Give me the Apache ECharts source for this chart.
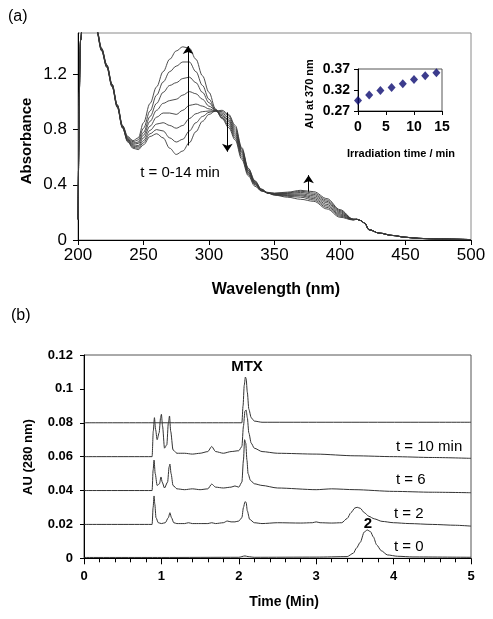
<!DOCTYPE html>
<html><head><meta charset="utf-8">
<script src="https://cdn.jsdelivr.net/npm/echarts@6/dist/echarts.min.js"></script>
<style>html,body{margin:0;padding:0;background:#fff}#c{width:493px;height:619px}</style>
</head><body><div id="c"></div>
<script>
// ---------- Panel (a): UV-Vis spectra ----------
const wavelengths = [200,202,206,210,214,218,222,226,230,234,238,242,246,250,255,260,265,270,275,280,285,290,295,300,305,310,315,320,325,330,335,340,345,350,360,370,380,390,400,410,413,416,419,422,430,440,450,460,475,500];
const absT0  = [0.15,1.45,2.2,2.2,1.52,1.37,1.25,1.11,0.96,0.81,0.71,0.665,0.655,0.69,0.75,0.77,0.74,0.665,0.62,0.645,0.705,0.785,0.86,0.91,0.935,0.94,0.91,0.83,0.67,0.52,0.43,0.37,0.34,0.325,0.31,0.295,0.28,0.225,0.165,0.145,0.15,0.14,0.12,0.075,0.05,0.033,0.02,0.012,0.007,0.003];
const absT2  = [0.15,1.45,2.2,2.2,1.523,1.373,1.253,1.113,0.963,0.812,0.715,0.672,0.665,0.705,0.77,0.80,0.79,0.74,0.71,0.73,0.79,0.85,0.895,0.925,0.935,0.93,0.90,0.815,0.66,0.515,0.425,0.368,0.34,0.327,0.317,0.31,0.29,0.236,0.173,0.146,0.15,0.14,0.12,0.075,0.05,0.033,0.02,0.012,0.007,0.003];
const absT4  = [0.15,1.45,2.2,2.2,1.526,1.376,1.256,1.116,0.966,0.815,0.72,0.68,0.675,0.72,0.795,0.84,0.85,0.83,0.81,0.83,0.88,0.915,0.93,0.935,0.935,0.92,0.885,0.80,0.65,0.505,0.42,0.365,0.34,0.329,0.322,0.32,0.30,0.247,0.181,0.147,0.15,0.14,0.12,0.075,0.05,0.033,0.02,0.012,0.007,0.003];
const absT6  = [0.15,1.45,2.2,2.2,1.529,1.379,1.259,1.119,0.969,0.818,0.725,0.688,0.685,0.74,0.825,0.89,0.92,0.92,0.91,0.94,0.975,0.985,0.97,0.95,0.935,0.91,0.87,0.785,0.64,0.50,0.415,0.362,0.34,0.331,0.327,0.327,0.31,0.258,0.189,0.148,0.15,0.14,0.12,0.075,0.05,0.033,0.02,0.012,0.007,0.003];
const absT8  = [0.15,1.45,2.2,2.2,1.532,1.382,1.262,1.122,0.972,0.82,0.73,0.695,0.70,0.76,0.86,0.94,0.99,1.01,1.02,1.05,1.075,1.06,1.02,0.97,0.94,0.90,0.86,0.77,0.63,0.49,0.41,0.36,0.34,0.333,0.332,0.335,0.32,0.27,0.197,0.149,0.15,0.14,0.12,0.075,0.05,0.033,0.02,0.012,0.007,0.003];
const absT10 = [0.15,1.45,2.2,2.2,1.535,1.385,1.265,1.125,0.975,0.823,0.735,0.703,0.71,0.78,0.895,0.99,1.07,1.12,1.14,1.17,1.18,1.14,1.07,0.995,0.94,0.89,0.845,0.755,0.615,0.485,0.405,0.358,0.342,0.335,0.337,0.345,0.33,0.28,0.205,0.15,0.15,0.14,0.12,0.075,0.05,0.033,0.02,0.012,0.007,0.003];
const absT12 = [0.15,1.45,2.2,2.2,1.538,1.388,1.268,1.128,0.978,0.826,0.742,0.712,0.725,0.81,0.935,1.05,1.145,1.22,1.26,1.29,1.29,1.22,1.12,1.02,0.945,0.885,0.83,0.74,0.60,0.475,0.40,0.356,0.343,0.337,0.342,0.353,0.34,0.29,0.213,0.151,0.15,0.14,0.12,0.075,0.05,0.033,0.02,0.012,0.007,0.003];
const absT14 = [0.15,1.45,2.2,2.2,1.54,1.39,1.27,1.13,0.98,0.83,0.75,0.72,0.74,0.85,0.99,1.11,1.22,1.31,1.37,1.40,1.39,1.31,1.19,1.07,0.95,0.88,0.815,0.725,0.585,0.465,0.39,0.355,0.345,0.34,0.347,0.36,0.35,0.30,0.22,0.152,0.15,0.14,0.12,0.075,0.05,0.033,0.02,0.012,0.007,0.003];
const spectra = [absT0,absT2,absT4,absT6,absT8,absT10,absT12,absT14];
const specTicksX = [200,250,300,350,400,450,500];
const specTicksY = [0,0.4,0.8,1.2];
// annotation arrows (data coordinates)
const arrowUp284 = [[284,0.685],[284,1.405]];
const arrowDown314 = [[314,0.925],[314,0.64]];
const arrowUp376 = [[376,0.35],[376,0.47]];

// ---------- Inset ----------
const irrTime = [0,2,4,6,8,10,12,14];
const au370 = [0.295,0.308,0.319,0.326,0.335,0.345,0.354,0.361];

// ---------- Panel (b): chromatograms ----------
const timeMTX = [0,2.04,2.055,2.07,2.085,2.095,2.11,2.13,2.16,2.2,2.3,5];
const auMTX   = [0.08,0.08,0.09,0.102,0.107,0.106,0.098,0.088,0.083,0.081,0.0803,0.0803];
const time10 = [0,0.88,0.895,0.91,0.925,0.945,0.97,0.99,1.0,1.015,1.04,1.07,1.09,1.105,1.12,1.15,1.2,1.3,1.4,1.5,1.6,1.65,1.7,1.8,1.9,2.0,2.04,2.06,2.08,2.095,2.11,2.13,2.16,2.2,2.3,2.5,3.0,3.5,4.0,4.5,5.0];
const au10   = [0.06,0.06,0.075,0.083,0.076,0.07,0.074,0.083,0.085,0.078,0.065,0.067,0.08,0.084,0.075,0.064,0.062,0.062,0.0615,0.062,0.063,0.066,0.063,0.062,0.063,0.0635,0.066,0.078,0.087,0.0875,0.083,0.074,0.068,0.065,0.063,0.062,0.0615,0.0605,0.06,0.0595,0.059];
const time6 = [0,0.88,0.893,0.905,0.92,0.945,0.975,0.995,1.01,1.04,1.08,1.1,1.11,1.125,1.15,1.2,1.3,1.4,1.5,1.6,1.65,1.7,1.8,1.9,1.95,2.0,2.04,2.06,2.075,2.09,2.105,2.12,2.15,2.2,2.3,2.5,3.0,3.2,3.5,4.0,4.5,5.0];
const au6   = [0.04,0.04,0.052,0.058,0.05,0.043,0.044,0.048,0.045,0.0415,0.045,0.054,0.0556,0.05,0.043,0.041,0.0405,0.041,0.0405,0.041,0.0438,0.042,0.0415,0.042,0.0427,0.042,0.045,0.058,0.07,0.068,0.058,0.05,0.046,0.044,0.043,0.0415,0.0405,0.041,0.0405,0.0395,0.039,0.0387];
const time2 = [0,0.88,0.893,0.905,0.915,0.93,0.96,1.0,1.05,1.09,1.11,1.13,1.16,1.2,1.3,1.35,1.4,1.5,1.6,1.65,1.7,1.8,1.85,1.9,1.95,2.0,2.04,2.06,2.08,2.095,2.11,2.14,2.2,2.3,2.5,2.8,2.95,3.0,3.05,3.2,3.33,3.4,3.45,3.5,3.53,3.57,3.62,3.68,3.75,3.85,4.0,4.2,4.5,4.8,5.0];
const au2   = [0.02,0.02,0.03,0.0368,0.032,0.024,0.021,0.0205,0.021,0.024,0.0269,0.024,0.021,0.0205,0.0205,0.021,0.0205,0.0205,0.0205,0.021,0.0205,0.021,0.022,0.0215,0.0215,0.022,0.024,0.03,0.0334,0.033,0.028,0.023,0.021,0.0205,0.021,0.0208,0.021,0.0215,0.021,0.0208,0.021,0.0235,0.027,0.0297,0.0301,0.0295,0.027,0.0248,0.0233,0.0218,0.021,0.0205,0.02,0.0195,0.019];
const time0 = [0,1.0,2.0,2.08,2.12,2.2,3.0,3.4,3.48,3.52,3.57,3.62,3.66,3.7,3.74,3.78,3.84,3.92,4.05,4.25,5.0];
const au0   = [0.0005,0.0005,0.0006,0.0014,0.001,0.0006,0.0007,0.001,0.003,0.006,0.0095,0.0155,0.0167,0.0158,0.0125,0.008,0.0045,0.002,0.0012,0.0008,0.0006];
const traceLabels = ['t = 10 min','t = 6','t = 2','t = 0'];

const FONT = '"Liberation Sans", Arial, sans-serif';
const zip = (xs, ys) => xs.map((x, i) => [x, ys[i]]);

const chart = echarts.init(document.getElementById('c'), null, {renderer: 'canvas'});

const specSeries = spectra.map((arr, i) => ({
  type: 'line', xAxisIndex: 0, yAxisIndex: 0,
  data: zip(wavelengths, arr),
  showSymbol: false, smooth: 0.35, smoothMonotone: 'x', clip: true, silent: true,
  lineStyle: {color: '#3a3a3a', width: 0.9}
}));

const arrowLine = (pts) => [{coord: pts[0]}, {coord: pts[1]}];
specSeries[0].markLine = {
  silent: true, symbol: ['none', 'arrow'], symbolSize: 8,
  label: {show: false},
  lineStyle: {color: '#000', width: 1, type: 'solid'},
  emphasis: {disabled: true},
  data: [arrowLine(arrowUp284), arrowLine(arrowDown314), arrowLine(arrowUp376)]
};

const chromSeries = [[timeMTX, auMTX],[time10, au10],[time6, au6],[time2, au2],[time0, au0]].map(([t, a]) => ({
  type: 'line', xAxisIndex: 2, yAxisIndex: 2,
  data: zip(t, a), showSymbol: false, smooth: 0.25, smoothMonotone: 'x', silent: true,
  lineStyle: {color: '#333', width: 1}
}));

const axisLineBlack = {show: true, lineStyle: {color: '#000', width: 1}};

const option = {
  animation: false,
  backgroundColor: '#fff',
  grid: [
    {left: 78, top: 33, width: 393, height: 207, show: true, borderColor: '#8a8a8a', borderWidth: 1, backgroundColor: 'transparent'},
    {left: 358, top: 69, width: 84, height: 42, show: true, borderColor: '#555', borderWidth: 1, backgroundColor: '#fff'},
    {left: 84, top: 355, width: 387, height: 203.3, show: true, borderColor: '#555', borderWidth: 1}
  ],
  xAxis: [
    {gridIndex: 0, type: 'value', min: 200, max: 500, interval: 50,
     axisLine: axisLineBlack, splitLine: {show: false},
     axisTick: {show: true, inside: false, length: 5, lineStyle: {color: '#000'}},
     axisLabel: {fontFamily: FONT, fontSize: 17, color: '#000', margin: 7, customValues: specTicksX}},
    {gridIndex: 1, type: 'value', min: 0, max: 15, interval: 5,
     axisLine: axisLineBlack, splitLine: {show: false},
     axisTick: {show: true, length: 4, lineStyle: {color: '#000'}},
     axisLabel: {fontFamily: FONT, fontSize: 14, fontWeight: 'bold', color: '#000', margin: 9}},
    {gridIndex: 2, type: 'value', min: 0, max: 5, interval: 1,
     axisLine: axisLineBlack, splitLine: {show: false},
     axisTick: {show: true, length: 6, lineStyle: {color: '#000'}},
     minorTick: {show: true, splitNumber: 5, length: 4, lineStyle: {color: '#000'}},
     axisLabel: {fontFamily: FONT, fontSize: 13, fontWeight: 'bold', color: '#000', margin: 12}}
  ],
  yAxis: [
    {gridIndex: 0, type: 'value', min: 0, max: 1.5, interval: 0.4,
     axisLine: axisLineBlack, splitLine: {show: false},
     axisTick: {show: true, length: 5, lineStyle: {color: '#000'}, customValues: specTicksY},
     axisLabel: {fontFamily: FONT, fontSize: 17, color: '#000', margin: 11, customValues: specTicksY}},
    {gridIndex: 1, type: 'value', min: 0.27, max: 0.37, interval: 0.05,
     axisLine: axisLineBlack, splitLine: {show: false},
     axisTick: {show: true, length: 4, lineStyle: {color: '#000'}},
     axisLabel: {fontFamily: FONT, fontSize: 14, fontWeight: 'bold', color: '#000', margin: 8,
                 formatter: v => v.toFixed(2)}},
    {gridIndex: 2, type: 'value', min: 0, max: 0.12, interval: 0.02,
     axisLine: axisLineBlack, splitLine: {show: false},
     axisTick: {show: true, length: 4, lineStyle: {color: '#000'}},
     axisLabel: {fontFamily: FONT, fontSize: 13, fontWeight: 'bold', color: '#000', margin: 11}}
  ],
  series: [
    ...specSeries,
    {type: 'scatter', xAxisIndex: 1, yAxisIndex: 1, data: zip(irrTime, au370),
     symbol: 'diamond', symbolSize: [8, 9], silent: true,
     itemStyle: {color: '#0b0b70'}},
    ...chromSeries
  ],
  graphic: [
    {type: 'text', x: 8, y: 17, style: {text: '(a)', font: '16px ' + FONT, fill: '#000', textVerticalAlign: 'middle'}},
    {type: 'text', x: 11, y: 316, style: {text: '(b)', font: '16px ' + FONT, fill: '#000', textVerticalAlign: 'middle'}},
    {type: 'text', x: 27, y: 141, rotation: Math.PI / 2,
     style: {text: 'Absorbance', font: 'bold 15px ' + FONT, fill: '#000', textAlign: 'center', textVerticalAlign: 'middle'}},
    {type: 'text', x: 276, y: 290,
     style: {text: 'Wavelength (nm)', font: 'bold 16px ' + FONT, fill: '#000', textAlign: 'center', textVerticalAlign: 'middle'}},
    {type: 'text', x: 180, y: 173,
     style: {text: 't = 0-14 min', font: '15px ' + FONT, fill: '#000', textAlign: 'center', textVerticalAlign: 'middle'}},
    {type: 'text', x: 310, y: 94, rotation: Math.PI / 2,
     style: {text: 'AU at 370 nm', font: 'bold 11px ' + FONT, fill: '#000', textAlign: 'center', textVerticalAlign: 'middle'}},
    {type: 'text', x: 401, y: 154,
     style: {text: 'Irradiation time / min', font: 'bold 11px ' + FONT, fill: '#000', textAlign: 'center', textVerticalAlign: 'middle'}},
    {type: 'text', x: 28, y: 457, rotation: Math.PI / 2,
     style: {text: 'AU (280 nm)', font: 'bold 13px ' + FONT, fill: '#000', textAlign: 'center', textVerticalAlign: 'middle'}},
    {type: 'text', x: 284, y: 602,
     style: {text: 'Time (Min)', font: 'bold 14px ' + FONT, fill: '#000', textAlign: 'center', textVerticalAlign: 'middle'}},
    {type: 'text', x: 247, y: 367,
     style: {text: 'MTX', font: 'bold 15px ' + FONT, fill: '#000', textAlign: 'center', textVerticalAlign: 'middle'}},
    {type: 'text', x: 368, y: 524,
     style: {text: '2', font: 'bold 15px ' + FONT, fill: '#000', textAlign: 'center', textVerticalAlign: 'middle'}},
    {type: 'text', x: 396, y: 447, style: {text: traceLabels[0], font: '15px ' + FONT, fill: '#000', textVerticalAlign: 'middle'}},
    {type: 'text', x: 396, y: 480, style: {text: traceLabels[1], font: '15px ' + FONT, fill: '#000', textVerticalAlign: 'middle'}},
    {type: 'text', x: 394, y: 514, style: {text: traceLabels[2], font: '15px ' + FONT, fill: '#000', textVerticalAlign: 'middle'}},
    {type: 'text', x: 394, y: 547, style: {text: traceLabels[3], font: '15px ' + FONT, fill: '#000', textVerticalAlign: 'middle'}}
  ]
};
chart.setOption(option);
</script>
</body></html>
